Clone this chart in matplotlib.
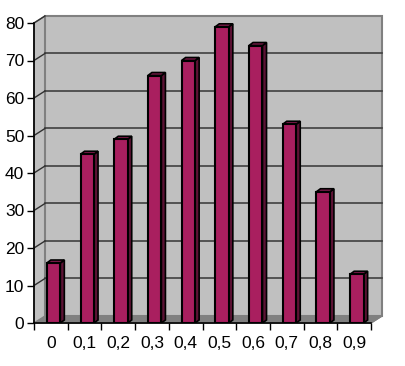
import matplotlib
matplotlib.use("Agg")
import matplotlib.pyplot as plt
from matplotlib.patches import Polygon, Rectangle

categories = ["0", "0,1", "0,2", "0,3", "0,4", "0,5", "0,6", "0,7", "0,8", "0,9"]
counts = [16, 45, 49, 66, 70, 79, 74, 53, 35, 13]
y_ticks = [0, 10, 20, 30, 40, 50, 60, 70, 80]

plt.rcParams["font.family"] = ["Liberation Sans", "DejaVu Sans"]

fig = plt.figure(figsize=(4.05, 3.66), dpi=100)
ax = fig.add_axes([34 / 405, 43 / 366, 337 / 405, 300 / 366])
n = len(categories)
ymax = 80
ax.set_xlim(0, n)
ax.set_ylim(0, ymax)

# depth offsets of the 3d box and of the bars (data units)
dx, dy = 0.326, 1.87
bdx, bdy = 0.12, 0.8
wall = "#c0c0c0"
edge = "#808080"

# floor
ax.add_patch(Polygon([(0, 0), (n, 0), (n + dx, dy), (dx, dy)], closed=True,
                     facecolor="#808080", edgecolor="#808080", lw=1, clip_on=False, zorder=1))
# left wall
ax.add_patch(Polygon([(0, 0), (dx, dy), (dx, ymax + dy), (0, ymax)], closed=True,
                     facecolor=wall, edgecolor=edge, lw=1, clip_on=False, zorder=1))
# back wall
ax.add_patch(Rectangle((dx, dy), n, ymax, facecolor=wall, edgecolor=edge, lw=1.5,
                       clip_on=False, zorder=1))

# gridlines
for v in y_ticks[1:-1]:
    ax.plot([dx, n + dx], [v + dy, v + dy], color="#404040", lw=1.2, clip_on=False, zorder=2)
for v in y_ticks[1:]:
    ax.plot([0, dx], [v, v + dy], color="#303030", lw=1, clip_on=False, zorder=2)

# bars
x0 = 0.38
w = 0.4
for i, v in enumerate(counts):
    left = i + x0
    ax.add_patch(Polygon([(left + w, 0), (left + w + bdx, bdy), (left + w + bdx, v + bdy), (left + w, v)],
                         closed=True, facecolor="#5c1234", edgecolor="black", lw=1.2, zorder=3))
    ax.add_patch(Polygon([(left, v), (left + bdx, v + bdy), (left + w + bdx, v + bdy), (left + w, v)],
                         closed=True, facecolor="#7d1a4a", edgecolor="black", lw=1.2, zorder=3))
    ax.add_patch(Rectangle((left, 0), w, v, facecolor="#a91f5f", edgecolor="black", lw=1.5, zorder=4))

# front axes
ax.plot([0, 0], [0, ymax], color="black", lw=1.2, clip_on=False, zorder=5)
ax.plot([0, n], [0, 0], color="black", lw=1.2, clip_on=False, zorder=5)
ax.plot([n, n + dx], [0, dy], color="#808080", lw=1, clip_on=False, zorder=2)

for s in ax.spines.values():
    s.set_visible(False)
ax.set_facecolor("none")
ax.set_yticks(y_ticks)
ax.set_yticklabels([str(t) for t in y_ticks], fontsize=12.5)
ax.set_xticks(range(n + 1))
ax.set_xticklabels([])
ax.set_xticks([i + 0.5 for i in range(n)], minor=True)
ax.set_xticklabels(categories, minor=True, fontsize=12.5)
ax.tick_params(axis="x", which="major", length=5, width=1, color="black")
ax.tick_params(axis="x", which="minor", length=0, pad=9)
ax.tick_params(axis="y", length=5, width=1, color="black", pad=2)

fig.savefig("out.png", dpi=100, facecolor="white")
